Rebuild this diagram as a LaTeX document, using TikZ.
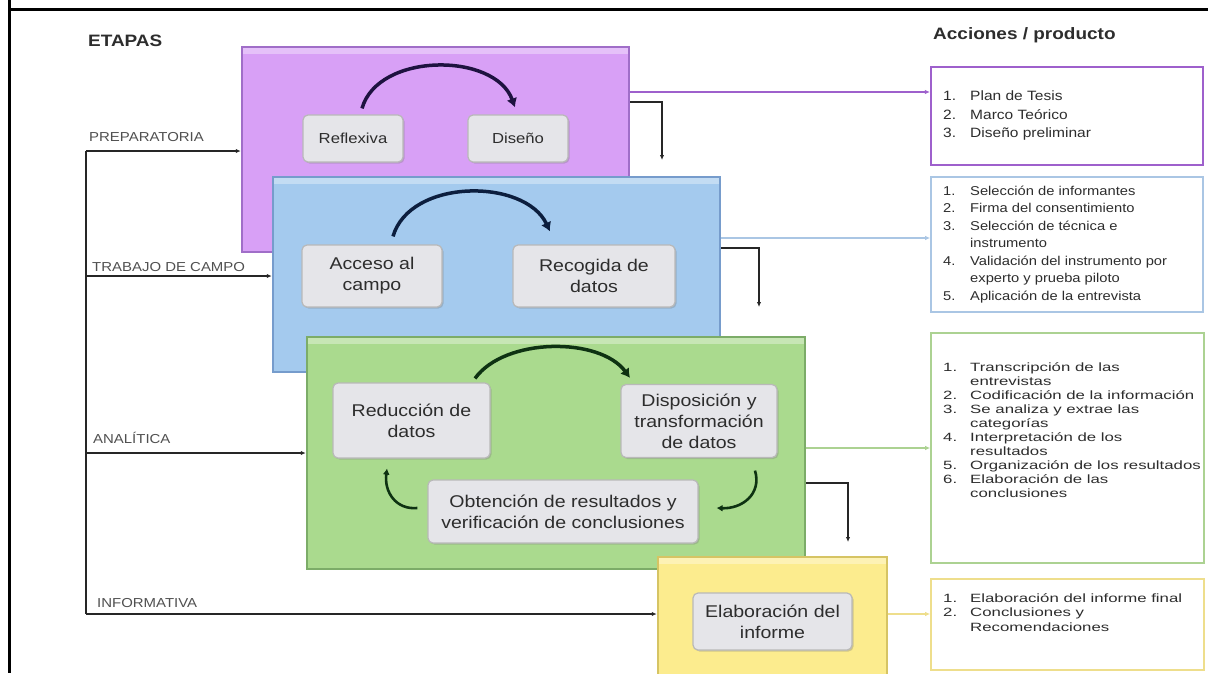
\documentclass[tikz,border=0pt]{standalone}
\usepackage{fontspec}
\setmainfont{Liberation Sans}[FakeStretch=1.15]
\newfontfamily\widefont{Liberation Sans}[FakeStretch=1.4]
\usetikzlibrary{arrows.meta,shadows}

\definecolor{purpfill}{RGB}{216,160,246}
\definecolor{purpline}{RGB}{160,110,200}
\definecolor{purpdark}{RGB}{30,18,64}
\definecolor{bluefill}{RGB}{164,202,238}
\definecolor{blueline}{RGB}{118,156,204}
\definecolor{bluedark}{RGB}{12,30,62}
\definecolor{greenfill}{RGB}{170,218,142}
\definecolor{greenline}{RGB}{124,172,104}
\definecolor{greendark}{RGB}{14,50,18}
\definecolor{yellfill}{RGB}{252,236,142}
\definecolor{yellline}{RGB}{214,196,100}
\definecolor{boxfill}{RGB}{229,229,233}
\definecolor{txtgray}{RGB}{45,45,45}
\definecolor{lblgray}{RGB}{80,80,80}
% outline boxes and links on the right
\definecolor{purpacc}{RGB}{158,96,204}
\definecolor{blueacc}{RGB}{170,198,228}
\definecolor{greenacc}{RGB}{172,210,146}
\definecolor{yellacc}{RGB}{238,222,140}

\newcommand{\itm}[2]{\makebox[27pt][l]{#1}#2}
\newcommand{\cnt}[1]{\hspace*{27pt}#1}

\tikzset{
  stagebox/.style={fill=#1fill, draw=#1line, line width=2.5pt, inner sep=0pt,
    path picture={\fill[white,opacity=.35] (path picture bounding box.north west) rectangle ([yshift=-7pt]path picture bounding box.north east);}},
  inbox/.style={fill=boxfill, draw=gray!55, line width=1.2pt, rounded corners=5pt,
    drop shadow={shadow xshift=1.5pt,shadow yshift=-1.5pt,opacity=.35},
    align=center, text=txtgray, inner sep=0pt, font=\fontsize{17}{21}\selectfont},
  headtxt/.style={font=\fontsize{16.5}{20}\selectfont\bfseries, text=txtgray, inner sep=0pt},
  stagelbl/.style={font=\fontsize{13}{15}\selectfont, text=lblgray, inner sep=0pt, anchor=west},
  blk/.style={line width=1.6pt, black!85},
  loopar/.style={line width=3.5pt, #1, -{Latex[length=9pt,width=11pt]}},
  arcsm/.style={line width=2.6pt, greendark, -{Latex[length=6pt,width=7pt]}},
  accbox/.style={draw=#1acc, fill=white, line width=1.6pt, inner sep=0pt},
  acclink/.style={draw=#1acc, line width=1.6pt, ->},
  acclist/.style={align=left, inner sep=0pt, anchor=west, text=txtgray},
}

\begin{document}
\begin{tikzpicture}[x=1pt, y=-1pt, >={Latex[length=5pt,width=4.5pt]}]
\useasboundingbox (0,0) rectangle (1208,673);
\clip (0,0) rectangle (1208,673);

% table frame
\draw[line width=3pt] (9,0) -- (9,673);
\draw[line width=3pt] (9,9.5) -- (1208,9.5);

% headings
\node[headtxt, anchor=west] (etapas) at (88,41) {ETAPAS};
\node[headtxt, anchor=west] (acciones) at (933,35) {Acciones / producto};

% Preparatoria
\node[stagebox=purp, minimum width=387, minimum height=205] (prep) at (435.5,149.5) {};
\node[inbox, font=\fontsize{14.5}{17}\selectfont, minimum width=100, minimum height=47] (refl) at (353,138.5) {Reflexiva};
\node[inbox, font=\fontsize{14.5}{17}\selectfont, minimum width=100, minimum height=47] (dis) at (518,138.5) {Diseño};
\draw[loopar=purpdark] ([xshift=9pt,yshift=6pt]refl.north) .. controls (378,52) and (495,52) .. ([xshift=-3pt,yshift=7pt]dis.north);

% Trabajo de campo
\node[stagebox=blue, minimum width=447, minimum height=195] (campo) at (496.5,274.5) {};
\node[inbox, minimum width=140, minimum height=62] (acceso) at (372,276) {Acceso al\\campo};
\node[inbox, minimum width=162, minimum height=62] (recog) at (594,276) {Recogida de\\datos};
\draw[loopar=bluedark] ([xshift=21pt,yshift=8pt]acceso.north) .. controls (410,178) and (525,178) .. ([xshift=-44pt,yshift=13pt]recog.north);

% Analitica
\node[stagebox=green, minimum width=498, minimum height=232] (anal) at (556,453) {};
\node[inbox, minimum width=157, minimum height=75] (reduc) at (411.5,420.5) {Reducción de\\datos};
\node[inbox, minimum width=156, minimum height=73] (dispo) at (699,421) {Disposición y\\transformación\\de datos};
\node[inbox, minimum width=270, minimum height=63] (obten) at (563,511.5) {Obtención de resultados y\\verificación de conclusiones};
\draw[loopar=greendark] ([xshift=63.5pt,yshift=4pt]reduc.north) .. controls (505,337) and (600,337) .. ([xshift=-69pt,yshift=6pt]dispo.north);
\draw[arcsm] ([xshift=56pt,yshift=-12.5pt]dispo.south) .. controls (762,494) and (742,509) .. ([xshift=18pt,yshift=3.5pt]obten.east);
\draw[arcsm] ([xshift=-10pt,yshift=3.5pt]obten.west) .. controls (396,510) and (384,492) .. ([xshift=-24.5pt,yshift=-10pt]reduc.south);

% Informativa
\node[stagebox=yell, minimum width=229, minimum height=133] (info) at (772.5,623.5) {};
\node[inbox, minimum width=159, minimum height=57] (elab) at (772.5,621.5) {Elaboración del\\informe};

% stages on the left
\node[stagelbl] (lprep) at (89,137) {PREPARATORIA};
\node[stagelbl] (lcampo) at (92,267) {TRABAJO DE CAMPO};
\node[stagelbl] (lanal) at (93,438) {ANALÍTICA};
\node[stagelbl] (linfo) at (97,603) {INFORMATIVA};

\coordinate (b1) at (86,151);
\coordinate (b2) at (86,276);
\coordinate (b3) at (86,453);
\coordinate (b4) at (86,614);
\draw[blk] (b1) -- (b4);
\draw[blk,->] (b1) -- (b1 -| prep.west);
\draw[blk,->] (b2) -- (b2 -| campo.west);
\draw[blk,->] (b3) -- (b3 -| anal.west);
\draw[blk,->] (b4) -- (b4 -| info.west);

% steps down to the next stage
\coordinate (e1) at (662,160);
\coordinate (e2) at (759,307);
\coordinate (e3) at (848,542);
\draw[blk,->] (prep.east |- 0,102) -| (e1);
\draw[blk,->] (campo.east |- 0,248) -| (e2);
\draw[blk,->] (anal.east |- 0,483) -| (e3);

% actions / products
\node[accbox=purp, line width=2.2pt, minimum width=272, minimum height=98] (acc1) at (1067,116) {};
\node[accbox=blue, minimum width=272, minimum height=135] (acc2) at (1067,244.5) {};
\node[accbox=green, minimum width=273, minimum height=230] (acc3) at (1067.5,448) {};
\node[accbox=yell, minimum width=273, minimum height=91] (acc4) at (1067.5,624.5) {};

\node[acclist, font=\fontsize{13.5}{18.5}\selectfont] (list1) at (943,116)
  {\itm{1.}{Plan de Tesis}\\\itm{2.}{Marco Teórico}\\\itm{3.}{Diseño preliminar}};
\node[acclist, font=\fontsize{12.8}{17.5}\selectfont] (list2) at (943,244.5)
  {\itm{1.}{Selección de informantes}\\\itm{2.}{Firma del consentimiento}\\
   \itm{3.}{Selección de técnica e}\\\cnt{instrumento}\\
   \itm{4.}{Validación del instrumento por}\\\cnt{experto y prueba piloto}\\
   \itm{5.}{Aplicación de la entrevista}};
\node[acclist, font=\widefont\fontsize{12}{14}\selectfont] (list3) at (943,430)
  {\itm{1.}{Transcripción de las}\\\cnt{entrevistas}\\
   \itm{2.}{Codificación de la información}\\
   \itm{3.}{Se analiza y extrae las}\\\cnt{categorías}\\
   \itm{4.}{Interpretación de los}\\\cnt{resultados}\\
   \itm{5.}{Organización de los resultados}\\
   \itm{6.}{Elaboración de las}\\\cnt{conclusiones}};
\node[acclist, font=\widefont\fontsize{12}{14.5}\selectfont] (list4) at (943,612.5)
  {\itm{1.}{Elaboración del informe final}\\\itm{2.}{Conclusiones y}\\\cnt{Recomendaciones}};

\draw[acclink=purp, line width=2.2pt] (prep.east |- 0,92) -- (acc1.west |- 0,92);
\draw[acclink=blue] (campo.east |- 0,238) -- (acc2.west |- 0,238);
\draw[acclink=green] (anal.east |- 0,448) -- (acc3.west |- 0,448);
\draw[acclink=yell] (info.east |- 0,614) -- (acc4.west |- 0,614);

\end{tikzpicture}
\end{document}
